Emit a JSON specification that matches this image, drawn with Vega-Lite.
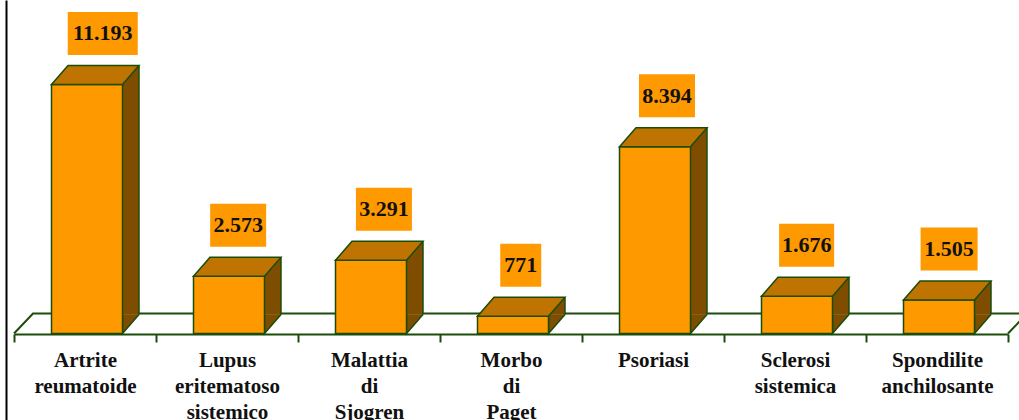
{"$schema":"https://vega.github.io/schema/vega-lite/v6.json","width":994,"height":420,"autosize":"none","padding":{"left":14,"right":11,"top":0,"bottom":0},"background":"white","config":{"view":{"stroke":null}},
"data":{"values":[
{"malattia":"Artrite reumatoide","pazienti":11193,"etichetta":"11.193"},
{"malattia":"Lupus eritematoso sistemico","pazienti":2573,"etichetta":"2.573"},
{"malattia":"Malattia di Sjogren","pazienti":3291,"etichetta":"3.291"},
{"malattia":"Morbo di Paget","pazienti":771,"etichetta":"771"},
{"malattia":"Psoriasi","pazienti":8394,"etichetta":"8.394"},
{"malattia":"Sclerosi sistemica","pazienti":1676,"etichetta":"1.676"},
{"malattia":"Spondilite anchilosante","pazienti":1505,"etichetta":"1.505"}]},
"encoding":{
"x":{"field":"malattia","type":"nominal","sort":null,"title":null,"scale":{"paddingInner":0,"paddingOuter":0},
"axis":{"labelAngle":0,"offset":-86,"domainColor":"#1a4d0a","domainWidth":2,"tickColor":"#1a4d0a","tickWidth":2,"tickSize":8,"tickBand":"extent","labelExpr":"split(datum.label,' ')","labelFont":"Liberation Serif","labelFontWeight":"bold","labelFontSize":21,"labelColor":"#111111","labelLineHeight":26,"labelPadding":7,"labelBaseline":"top","labelLimit":200}},
"y":{"field":"pazienti","type":"quantitative","title":null,"scale":{"domain":[-3888,14989],"nice":false,"zero":false},
"axis":{"orient":"left","offset":8,"labels":false,"ticks":false,"grid":false,"domainColor":"black","domainWidth":2}}
},
"layer":[
{"data":{"values":[{"piano":0}]},"mark":{"type":"point","shape":"M-497 0 L-478 -20 L530 -20 M497 0 L522 -26","size":4,"filled":false,"stroke":"#1a4d0a","strokeWidth":2,"opacity":1},"encoding":{"x":{"value":497},"y":{"field":"piano","type":"quantitative"}}},
{"mark":{"type":"bar","size":16.5,"color":"#7f4d00","xOffset":45.75,"yOffset":-19,"y2Offset":-19},"encoding":{"y2":{"datum":0}}},
{"mark":{"type":"point","shape":"M37.5 -19 L37.5 0 L54 -19","size":4,"filled":true,"fill":"#7f4d00","stroke":"#1a4d0a","strokeWidth":1.5,"opacity":1},"encoding":{"y":{"datum":0}}},
{"mark":{"type":"rule","color":"#1a4d0a","strokeWidth":1.5,"xOffset":54,"yOffset":-19,"y2Offset":-19},"encoding":{"y2":{"datum":0}}},
{"mark":{"type":"bar","size":71,"fill":"#ff9900","stroke":"#1a4d0a","strokeWidth":1.5,"xOffset":2},"encoding":{"y2":{"datum":0}}},
{"mark":{"type":"point","shape":"M-33.5 0 L37.5 0 L54 -19 L-17 -19 Z","size":4,"filled":true,"fill":"#bf7300","stroke":"#1a4d0a","strokeWidth":1.5,"opacity":1}},
{"mark":{"type":"point","size":4,"filled":true,"fill":"#ff9900","stroke":null,"opacity":1,"yOffset":-51},"encoding":{"xOffset":{"field":"malattia","type":"nominal","sort":null,"scale":{"domain":["Morbo di Paget","s1","s2","Lupus eritematoso sistemico","Sclerosi sistemica","Spondilite anchilosante","s3","s4","s5","Psoriasi","s6","Malattia di Sjogren","s7","s8","s9","s10","s11","Artrite reumatoide"],"range":[80.5,89]},"title":null},"shape":{"field":"etichetta","type":"nominal","legend":null,"scale":{"domain":["771","2.573","3.291","8.394","1.676","1.505","11.193"],"range":["M-20.5 -21.5 H20.5 V21.5 H-20.5 Z","M-28 -21.5 H28 V21.5 H-28 Z","M-28 -21.5 H28 V21.5 H-28 Z","M-28 -21.5 H28 V21.5 H-28 Z","M-27.5 -21.5 H27.5 V21.5 H-27.5 Z","M-28.5 -21.5 H28.5 V21.5 H-28.5 Z","M-35 -21.5 H35 V21.5 H-35 Z"]}}}},
{"mark":{"type":"text","font":"Liberation Serif","fontWeight":"bold","fontSize":22,"color":"#111111","yOffset":-51,"baseline":"middle"},"encoding":{"xOffset":{"field":"malattia","type":"nominal","sort":null,"scale":{"domain":["Morbo di Paget","s1","s2","Lupus eritematoso sistemico","Sclerosi sistemica","Spondilite anchilosante","s3","s4","s5","Psoriasi","s6","Malattia di Sjogren","s7","s8","s9","s10","s11","Artrite reumatoide"],"range":[80.5,89]},"title":null},"text":{"field":"etichetta"}}}
]}
